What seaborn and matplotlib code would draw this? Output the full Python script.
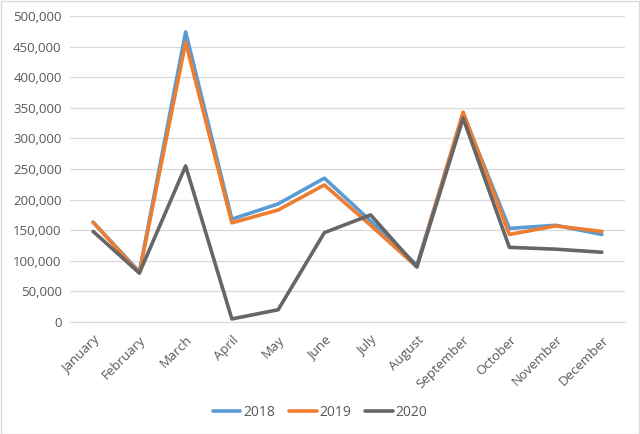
import numpy as np
import pandas as pd
import matplotlib.pyplot as plt
import seaborn as sns
from matplotlib.ticker import FuncFormatter

months = ["January", "February", "March", "April", "May", "June", "July",
          "August", "September", "October", "November", "December"]
sales_2018 = [163000, 82000, 474000, 168000, 193000, 235000, 165000, 93000, 340000, 153000, 158000, 143000]
sales_2019 = [163000, 80000, 457000, 162000, 183000, 224000, 158000, 90000, 343000, 143000, 157000, 148000]
sales_2020 = [148000, 80000, 255000, 5000, 20000, 146000, 175000, 90000, 333000, 122000, 119000, 114000]
years = ["2018", "2019", "2020"]

df = pd.DataFrame({
    "month": months * 3,
    "value": sales_2018 + sales_2019 + sales_2020,
    "year": np.repeat(years, len(months)),
})

sns.set_style("white")
plt.rcParams["font.family"] = ["Open Sans", "DejaVu Sans"]

fig = plt.figure(figsize=(6.4, 4.34), dpi=100)
ax = fig.add_axes([70 / 640, 1 - 322 / 434, 555 / 640, 306 / 434])

palette = {"2018": "#5B9BD5", "2019": "#ED7D31", "2020": "#666666"}
sns.lineplot(data=df, x="month", y="value", hue="year", palette=palette,
             linewidth=2.6, ax=ax, sort=False)

ax.set_xlim(-0.5, 11.5)
ax.set_ylim(0, 500000)
ax.set_yticks(np.arange(0, 500001, 50000))
ax.yaxis.set_major_formatter(FuncFormatter(lambda v, p: f"{int(v):,}"))
ax.grid(axis="y", color="#d9d9d9", linewidth=0.9)
ax.set_axisbelow(True)

ax.set_xticks(range(12))
ax.set_xticklabels(months, rotation=45, ha="right", rotation_mode="anchor")
ax.set_xticks(np.arange(-0.5, 12, 1), minor=True)
ax.tick_params(axis="x", which="major", length=0, pad=8, labelsize=9.5, labelcolor="#595959")
ax.tick_params(axis="x", which="minor", length=5, color="#d9d9d9", width=0.9)
ax.tick_params(axis="y", length=0, labelsize=9.5, labelcolor="#595959", pad=6)

for side in ["top", "right", "left"]:
    ax.spines[side].set_visible(False)
ax.spines["bottom"].set_color("#d9d9d9")
ax.set_xlabel("")
ax.set_ylabel("")

handles, labels = ax.get_legend_handles_labels()
ax.get_legend().remove()
fig.legend(handles, labels, loc="center", bbox_to_anchor=(0.5, 1 - 412 / 434),
           ncol=3, frameon=False, fontsize=10, handlelength=2.0,
           handletextpad=0.2, columnspacing=1.0, labelcolor="#595959")

fig.patches.append(plt.Rectangle((0.001, 0.001), 0.997, 0.997, transform=fig.transFigure,
                                 fill=False, edgecolor="#d9d9d9", linewidth=1))

fig.savefig("out.png", dpi=100)
